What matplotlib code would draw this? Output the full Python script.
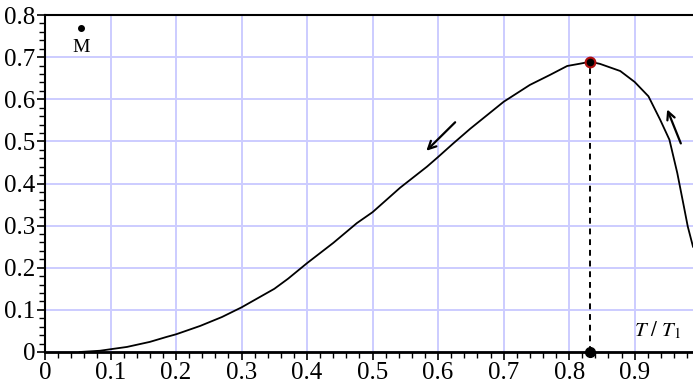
import matplotlib

matplotlib.use("Agg")
import matplotlib.pyplot as plt
from matplotlib.ticker import MultipleLocator

plt.rcParams["font.family"] = ["Liberation Serif", "DejaVu Serif"]
plt.rcParams["mathtext.fontset"] = "stix"

# reduced temperature vs. curve value
t_ratio = [0.053, 0.084, 0.102, 0.125, 0.160, 0.186, 0.200, 0.237, 0.270, 0.300,
           0.325, 0.350, 0.371, 0.400, 0.440, 0.476, 0.500, 0.542, 0.583, 0.600,
           0.623, 0.649, 0.700, 0.740, 0.771, 0.797, 0.815, 0.832, 0.847, 0.878,
           0.900, 0.921, 0.939, 0.953, 0.965, 0.975, 0.981, 0.989]
value = [0.000, 0.003, 0.007, 0.012, 0.024, 0.036, 0.042, 0.062, 0.083, 0.106,
         0.128, 0.150, 0.174, 0.211, 0.259, 0.306, 0.332, 0.390, 0.440, 0.463,
         0.495, 0.530, 0.594, 0.634, 0.658, 0.679, 0.684, 0.689, 0.684, 0.667,
         0.641, 0.607, 0.551, 0.504, 0.425, 0.346, 0.298, 0.250]

peak_t = 0.832
peak_value = 0.689
m_point = (0.055, 0.769)

x_ticks = [0, 0.1, 0.2, 0.3, 0.4, 0.5, 0.6, 0.7, 0.8, 0.9]
x_labels = ["0", "0.1", "0.2", "0.3", "0.4", "0.5", "0.6", "0.7", "0.8", "0.9"]
y_ticks = [0, 0.1, 0.2, 0.3, 0.4, 0.5, 0.6, 0.7, 0.8]
y_labels = ["0", "0.1", "0.2", "0.3", "0.4", "0.5", "0.6", "0.7", "0.8"]

fig = plt.figure(figsize=(6.93, 3.84), dpi=100)
ax = fig.add_axes([45 / 693, 32 / 384, 648 / 693, 337 / 384])

ax.set_xlim(0, 0.989)
ax.set_ylim(0, 0.8)
ax.set_xticks(x_ticks)
ax.set_xticklabels(x_labels)
ax.set_yticks(y_ticks)
ax.set_yticklabels(y_labels)
ax.xaxis.set_minor_locator(MultipleLocator(0.02))
ax.yaxis.set_minor_locator(MultipleLocator(0.02))
ax.tick_params(which="major", length=6, width=1.2, labelsize=18, pad=1)
ax.tick_params(which="minor", length=4, width=1.0)
ax.grid(True, which="major", color="#ccccff", linewidth=1.4)
ax.set_axisbelow(True)

ax.spines["right"].set_visible(False)
for side in ("left", "top"):
    ax.spines[side].set_linewidth(1.5)
ax.spines["bottom"].set_linewidth(2)

ax.plot(t_ratio, value, color="black", linewidth=1.3)
ax.plot([peak_t, peak_t], [0, peak_value], color="black", linewidth=1.4,
        linestyle=(0, (3, 2.5)))
ax.plot(peak_t, peak_value, "o", markersize=7, markerfacecolor="black",
        markeredgecolor="#b01010", markeredgewidth=1.5, zorder=5)
ax.plot(peak_t, 0, "o", markersize=7, color="black", clip_on=False, zorder=5)

ax.plot(*m_point, "o", markersize=4, color="black")
ax.text(m_point[0], m_point[1] - 0.045, "M", fontsize=14, ha="center",
        va="center")
ax.text(0.934, 0.05, r"$T\ /\ T_1$", fontsize=15, ha="center", va="center")

arrow = dict(arrowstyle="->", color="black", lw=1.6, mutation_scale=14)
ax.annotate("", xy=(0.579, 0.473), xytext=(0.629, 0.550), arrowprops=arrow)
ax.annotate("", xy=(0.948, 0.582), xytext=(0.972, 0.489), arrowprops=arrow)

plt.savefig("out.png", dpi=100)
plt.close()
